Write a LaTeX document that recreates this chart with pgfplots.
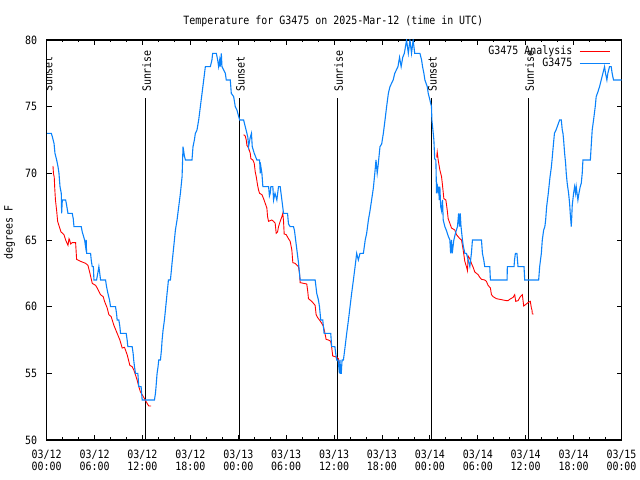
\documentclass[border=0pt]{standalone}
\usepackage{fontspec}
\usepackage{pgfplots}
\pgfplotsset{compat=1.18}
\newfontfamily\gdfamily{DejaVu Sans Mono}[FakeStretch=0.874]
\newcommand\gdf{\gdfamily\fontsize{11.4bp}{12.4bp}\selectfont}
\definecolor{obsblue}{RGB}{10,130,250}
\definecolor{anared}{RGB}{255,0,0}
\begin{document}
\begin{tikzpicture}
\path[use as bounding box] (0,0) rectangle (640bp,480bp);
\begin{axis}[
  at={(46.67bp,40bp)}, anchor=south west,
  scale only axis, width=574.83bp, height=400bp,
  xmin=0, xmax=72, ymin=50, ymax=80,
  axis line style={line width=1.3bp},
  xtick={0,6,...,72},
  minor x tick num=2,
  xticklabels={{03/12\\00:00},{03/12\\06:00},{03/12\\12:00},{03/12\\18:00},{03/13\\00:00},{03/13\\06:00},{03/13\\12:00},{03/13\\18:00},{03/14\\00:00},{03/14\\06:00},{03/14\\12:00},{03/14\\18:00},{03/15\\00:00}},
  ytick={50,55,...,80},
  tick align=inside,
  major tick length=5bp, minor tick length=2.5bp,
  tick style={black, line width=0.8bp},
  ticklabel style={font=\gdf},
  xticklabel style={align=center, anchor=north, inner sep=0pt, yshift=-9.8bp},
  yticklabel style={anchor=east, inner sep=0pt, xshift=-9.4bp},
  /pgf/number format/assume math mode=true,
  unbounded coords=jump,
  legend plot pos=right,
  legend cell align=right,
  legend style={draw=none, fill=none, at={(0.98,0.985)}, anchor=north east,
    inner sep=0pt, outer sep=0pt, row sep=0pt, column sep=6.7bp, font=\gdf,
    nodes={inner sep=0pt, text height=8.5bp, text depth=3.5bp}},
  legend image code/.code={\draw[#1, line width=1bp] (0bp,0bp) -- (30bp,0bp);},
]
% sunrise / sunset lines
\addplot[black, line width=1bp, forget plot] coordinates {(0.04,50) (0.04,75.63)};
\addplot[black, line width=1bp, forget plot] coordinates {(12.35,50) (12.35,75.63)};
\addplot[black, line width=1bp, forget plot] coordinates {(24.12,50) (24.12,75.63)};
\addplot[black, line width=1bp, forget plot] coordinates {(36.39,50) (36.39,75.63)};
\addplot[black, line width=1bp, forget plot] coordinates {(48.16,50) (48.16,75.63)};
\addplot[black, line width=1bp, forget plot] coordinates {(60.31,50) (60.31,75.63)};

% analysis (red)
\addplot[anared, line width=0.9bp] coordinates {
(0.79,70.55) (0.85,70) (0.95,69.7) (1.0,69) (1.1,68) (1.25,67.2) (1.375,66.4) (1.58,66) (1.8,65.6) (2.0,65.5)
(2.17,65.4) (2.375,65) (2.67,64.6) (2.8,65.1) (2.875,65) (3.0,64.7) (3.2,64.8) (3.625,64.8) (3.75,63.55) (4.25,63.4)
(4.875,63.25) (5.17,63.1) (5.42,62.5) (5.71,61.75) (6.125,61.6) (6.33,61.4) (6.75,60.9) (7.08,60.75) (7.25,60.4) (7.58,59.9)
(7.79,59.4) (8.08,59.25) (8.42,58.6) (8.83,58) (9.17,57.5) (9.46,56.9) (9.75,56.95) (10.08,56.4) (10.42,55.6) (10.71,55.5)
(10.92,55.25) (11.33,54.5) (11.54,54) (11.75,53.6) (11.96,53.4) (12.25,53.1) (12.58,52.75) (12.79,52.55) (13.08,52.55)
(13.1,nan)
(24.67,72.9) (24.875,72.8) (25.0,72.5) (25.08,72.1) (25.29,71.9) (25.5,71.5) (25.58,71.1) (25.83,71) (26.0,70.75) (26.125,70.1)
(26.25,69.75) (26.42,69.1) (26.54,68.75) (26.67,68.5) (26.96,68.4) (27.17,68.1) (27.375,67.75) (27.58,67.4) (27.67,66.75) (27.79,66.4)
(28.2,66.5) (28.42,66.4) (28.625,66.25) (28.75,65.5) (28.92,65.6) (29.04,66) (29.25,66.4) (29.46,66.75) (29.58,67) (29.67,66.4)
(29.75,65.45) (30.0,65.4) (30.29,65.1) (30.5,64.9) (30.71,64.25) (30.83,63.3) (31.125,63.25) (31.54,63) (31.67,62.5) (31.75,61.8)
(32.17,61.75) (32.58,61.7) (32.71,61.1) (32.79,60.6) (33.2,60.4) (33.625,60.1) (33.75,59.4) (33.92,59.2) (34.17,59) (34.46,58.75)
(34.67,58.5) (34.875,57.95) (35.0,57.55) (35.29,57.5) (35.58,57.4) (35.71,56.9) (35.83,56.3) (36.125,56.25) (36.33,56.2) (36.54,56.1)
(36.67,55.75)
(36.7,nan)
(48.85,71.2) (48.92,71.6) (49.04,71) (49.25,70.25) (49.46,69.75) (49.58,69.1) (49.75,68.1) (50.0,68) (50.17,67.25) (50.29,66.6)
(50.5,66.25) (50.71,65.9) (51.125,65.75) (51.33,65.4) (51.75,65.1) (51.96,65) (52.17,64.25) (52.29,63.75) (52.375,63.4) (52.58,63)
(52.71,62.7) (52.79,63.8) (53.0,63.6) (53.2,63.25) (53.42,62.95) (53.625,62.6) (54.04,62.4) (54.25,62.2) (54.46,62.05) (54.875,62)
(55.08,61.9) (55.29,61.6) (55.58,61.4) (55.71,60.9) (55.92,60.75) (56.33,60.6) (56.75,60.55) (57.17,60.5) (57.58,60.45) (57.79,60.45)
(58.0,60.55) (58.42,60.7) (58.625,60.9) (58.75,60.4) (59.04,60.45) (59.33,60.75) (59.58,60.9) (59.75,60.05) (60.08,60.2) (60.29,60.3)
(60.58,60.4) (60.71,59.9) (60.79,59.75) (60.83,59.45) (61.0,59.45)
};
\addlegendentry{G3475 Analysis}

% observations (blue)
\addplot[obsblue, line width=1.1bp] coordinates {
(0.05,73) (0.58,73) (0.71,72.75) (0.92,72.25) (1.04,71.5) (1.25,71) (1.42,70.5) (1.54,70) (1.67,69) (1.83,68.5)
(1.875,67) (1.96,68) (2.375,68) (2.46,67.75) (2.67,67) (3.2,67) (3.33,66.6) (3.42,66) (4.33,66) (4.46,65.6)
(4.75,65) (4.875,64.5) (4.95,65) (5.0,64) (5.5,64) (5.6,63.4) (5.71,63) (5.85,63) (5.92,62) (6.25,62)
(6.4,62.5) (6.54,63) (6.65,62.5) (6.75,62) (7.375,62) (7.5,61.5) (7.67,61) (7.875,60.5) (8.0,60) (8.625,60)
(8.75,59.5) (8.83,59) (9.04,59) (9.17,58.5) (9.25,58) (9.96,58) (10.08,57.5) (10.17,57) (10.71,57) (10.83,56.5)
(10.9,56) (11.0,55.5) (11.125,55) (11.42,55) (11.54,54) (11.83,54) (11.96,53) (13.5,53) (13.625,53.5) (13.7,54)
(13.83,55) (13.95,55.5) (14.04,56) (14.25,56) (14.375,56.75) (14.46,57.5) (14.58,58.25) (14.75,59) (14.875,59.75) (15.0,60.5)
(15.08,61) (15.17,61.5) (15.25,62) (15.5,62) (15.625,62.75) (15.7,63.25) (15.83,64) (16.0,65) (16.125,65.75) (16.33,66.5)
(16.54,67.5) (16.75,68.5) (16.96,69.75) (17.08,72) (17.25,71.3) (17.375,71) (18.2,71) (18.33,72) (18.5,72.5) (18.625,73)
(18.83,73.25) (19.04,74) (19.25,75) (19.46,76) (19.67,77) (19.875,78) (20.5,78) (20.7,78.5) (20.79,79) (21.25,79)
(21.42,78.5) (21.54,78) (21.67,78.5) (21.75,78) (21.875,79) (21.96,78) (22.375,77.5) (22.5,77) (23.0,77) (23.125,76)
(23.42,75.75) (23.625,75) (23.83,74.75) (24.17,74) (24.67,74) (24.875,73.5) (25.08,73) (25.2,72.7) (25.29,72) (25.5,72.7)
(25.65,73) (25.75,72) (26.0,71.5) (26.33,71) (26.67,71) (26.75,70) (26.83,70.5) (26.96,70) (27.08,69) (27.8,69)
(27.9,68.3) (28.0,68.5) (28.08,69) (28.33,69) (28.42,68) (28.6,68.5) (28.83,68) (29.04,69) (29.25,69) (29.46,68)
(29.67,67) (30.17,67) (30.29,66.2) (30.5,66) (30.92,66) (31.04,65.7) (31.33,64.3) (31.54,63.3) (31.75,62) (33.63,62)
(33.83,61) (34.04,60.5) (34.17,60) (34.33,59) (34.58,59) (34.75,58) (35.58,58) (35.7,57) (36.1,57) (36.2,56.5)
(36.33,56) (36.5,56) (36.67,55) (36.75,56) (36.8,55) (36.9,55) (37.0,56) (37.17,56) (37.38,57) (37.58,58)
(37.8,59) (38.0,60) (38.2,61) (38.42,62) (38.63,63) (38.83,64) (39.04,63.5) (39.25,64) (39.67,64) (39.9,65)
(40.08,65.5) (40.3,66.5) (40.5,67.2) (40.7,68) (40.92,68.9) (41.1,70) (41.25,71) (41.4,70) (41.5,70.5) (41.75,72)
(41.96,72.2) (42.17,73) (42.38,74) (42.58,75) (42.8,76) (43.0,76.5) (43.4,77) (43.6,77.5) (44.0,78) (44.2,78.7)
(44.4,78) (44.6,78.7) (44.8,79) (45.08,80) (45.3,79) (45.5,80) (45.7,79) (45.9,80) (46.1,79) (46.75,79)
(46.96,78.5) (47.08,78) (47.25,77.5) (47.375,77) (47.67,76.5) (47.79,76) (48.0,75.5) (48.2,75) (48.25,74) (48.42,73)
(48.5,72.5) (48.6,71.1) (48.75,71) (48.83,68.5) (48.95,69) (49.04,68.5) (49.1,69) (49.17,68) (49.25,69) (49.35,67.5)
(49.46,67.2) (49.58,68) (49.67,66.5) (49.875,66) (50.08,65.7) (50.29,65.3) (50.5,65) (50.6,64) (50.7,65) (50.8,64)
(50.9,64.5) (51.0,65) (51.2,65.5) (51.45,66) (51.6,67) (51.7,66) (51.8,67) (51.9,66) (52.08,65) (52.17,64.6)
(52.375,64) (52.58,64) (52.79,63.5) (53.0,63) (53.2,64) (53.33,65) (54.46,65) (54.58,64) (54.75,63.5) (54.875,63)
(55.5,63) (55.58,62) (57.67,62) (57.7,63) (58.54,63) (58.6,63.5) (58.71,64) (58.9,64) (59.04,63) (59.79,63)
(59.875,62) (61.625,62) (61.75,63) (61.96,64) (62.08,65) (62.25,65.75) (62.4,66) (62.5,66.5) (62.625,67.5) (62.83,68.5)
(63.04,69.7) (63.2,70.4) (63.3,71) (63.4,71.7) (63.6,73) (63.8,73.25) (64.25,74) (64.46,74) (64.58,73.25) (64.67,73)
(64.75,72.5) (64.875,71.5) (65.0,70.75) (65.08,70) (65.2,69.25) (65.375,68.5) (65.5,67.75) (65.58,67) (65.71,66) (65.75,66.5)
(65.83,67.6) (66.0,68.5) (66.125,69) (66.25,68.5) (66.33,69) (66.54,68) (66.67,68.5) (66.83,69) (66.96,69.25) (67.08,70)
(67.17,71) (68.1,71) (68.2,72) (68.33,73.25) (68.5,74) (68.71,75) (68.83,75.75) (69.04,76.1) (69.25,76.5) (69.46,77)
(69.67,77.5) (69.875,78) (70.0,77.5) (70.17,77) (70.29,77.5) (70.5,78) (70.71,78) (70.83,77.5) (71.0,77) (72.0,77)
};
\addlegendentry{G3475}

% sun labels
\node[font=\gdf, rotate=90, anchor=west, inner sep=0pt] at (axis cs:0.21,76.085) {Sunset};
\node[font=\gdf, rotate=90, anchor=west, inner sep=0pt] at (axis cs:12.52,76.085) {Sunrise};
\node[font=\gdf, rotate=90, anchor=west, inner sep=0pt] at (axis cs:24.29,76.085) {Sunset};
\node[font=\gdf, rotate=90, anchor=west, inner sep=0pt] at (axis cs:36.56,76.085) {Sunrise};
\node[font=\gdf, rotate=90, anchor=west, inner sep=0pt] at (axis cs:48.33,76.085) {Sunset};
\node[font=\gdf, rotate=90, anchor=west, inner sep=0pt] at (axis cs:60.48,76.085) {Sunrise};
\end{axis}
\node[font=\gdf, anchor=base] at (333.3bp,455.8bp) {Temperature for G3475 on 2025-Mar-12 (time in UTC)};
\node[font=\gdf, rotate=90] at (9.5bp,247.5bp) {degrees F};
\end{tikzpicture}
\end{document}
